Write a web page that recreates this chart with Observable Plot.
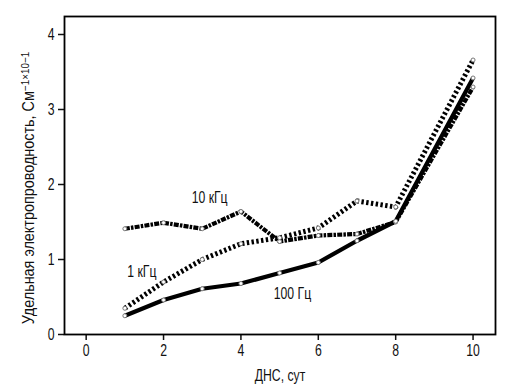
<!DOCTYPE html>
<html><head><meta charset="utf-8">
<script src="https://cdn.jsdelivr.net/npm/d3@7"></script>
<script src="https://cdn.jsdelivr.net/npm/@observablehq/plot@0.6"></script>
<style>body{margin:0;background:#fff}</style>
</head><body><div id="chart"></div>
<script>
const days = [1, 2, 3, 4, 5, 6, 7, 8, 10];
const hz100 = [0.25, 0.46, 0.61, 0.68, 0.82, 0.96, 1.25, 1.51, 3.42];
const khz1 = [0.35, 0.70, 1.00, 1.21, 1.29, 1.42, 1.78, 1.70, 3.66];
const khz10 = [1.41, 1.49, 1.41, 1.64, 1.24, 1.32, 1.34, 1.50, 3.30];
const seriesNames = ["100 Гц", "1 кГц", "10 кГц"];
const xTicks = [0, 2, 4, 6, 8, 10];
const yTicks = [0, 1, 2, 3, 4];
const xLabel = "ДНС, сут";
const yLabel = "Удельная электропроводность, См";
const yLabelSup = "−1×10−1";
const labelDay = [5.33, 1.44, 3.19];
const labelValue = [0.55, 0.84, 1.82];

const rows = (name, vals) => days.map((d, i) => ({series: name, day: d, value: vals[i]}));
const d100 = rows(seriesNames[0], hz100);
const d1k = rows(seriesNames[1], khz1);
const d10k = rows(seriesNames[2], khz10);
const all = [...d10k, ...d1k, ...d100];
const labels = seriesNames.map((s, i) => ({text: s, day: labelDay[i], value: labelValue[i]}));

const font = "'Liberation Sans', Arial, sans-serif";
const plot = Plot.plot({
  width: 517, height: 385,
  marginLeft: 64, marginRight: 22, marginTop: 16, marginBottom: 51,
  style: {fontFamily: font, fontSize: "17px", color: "#111", background: "#fff"},
  x: {domain: [-0.56, 10.58]},
  y: {domain: [0, 4.24]},
  marks: [
    Plot.axisX({ticks: xTicks, tickSize: 6, tickPadding: 3, tickFormat: d => String(d),
      label: xLabel, labelAnchor: "center", labelArrow: "none", labelOffset: 46, strokeWidth: 1.5, fontSize: 17}),
    Plot.axisY({ticks: yTicks, tickSize: 6, tickPadding: 4, tickFormat: d => String(d), label: null, strokeWidth: 1.5, fontSize: 17}),
    Plot.line(d10k, {x: "day", y: "value", stroke: "#000", strokeWidth: 4.2, strokeLinecap: "butt", strokeLinejoin: "round", strokeDasharray: "5,1.2,2.5,1.2"}),
    Plot.line(d1k, {x: "day", y: "value", stroke: "#000", strokeWidth: 5, strokeLinecap: "butt", strokeLinejoin: "round", strokeDasharray: "2.4,2.4"}),
    Plot.line(d100, {x: "day", y: "value", stroke: "#000", strokeWidth: 4.2, strokeLinecap: "butt", strokeLinejoin: "round"}),
    Plot.dot(all, {x: "day", y: "value", r: 2, fill: "white", stroke: "#777", strokeWidth: 1}),
    Plot.frame({stroke: "#000", strokeWidth: 1.8}),
    Plot.text(labels, {x: "day", y: "value", text: "text", fontSize: 17, fill: "#111"})
  ]
});
document.getElementById("chart").appendChild(plot);
const svg = d3.select(plot);
// condense text horizontally (about each text's anchor) to mimic the narrow typeface of the original
svg.selectAll("text").each(function() {
  try {
    const b = this.getBBox();
    const anchor = getComputedStyle(this).textAnchor;
    const ax = anchor === "end" ? b.x + b.width : anchor === "middle" ? b.x + b.width / 2 : b.x;
    const tr = this.getAttribute("transform") || "";
    this.setAttribute("transform", `${tr} translate(${ax},0) scale(0.72,1) translate(${-ax},0)`);
  } catch (e) {}
});
const t = svg.append("text")
  .attr("transform", "translate(34,188) rotate(-90) scale(0.9,1)")
  .attr("text-anchor", "middle")
  .attr("font-size", 16)
  .attr("fill", "#111");
t.append("tspan").text(yLabel);
t.append("tspan").attr("dy", "-0.45em").attr("font-size", "11px").text(yLabelSup);
</script>
</body></html>
